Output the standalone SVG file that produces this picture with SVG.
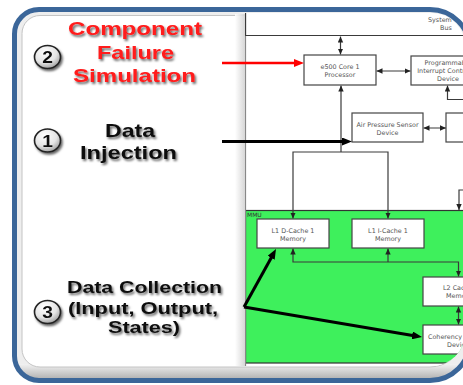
<svg xmlns="http://www.w3.org/2000/svg" width="463" height="385" viewBox="0 0 463 385">
<defs>
<style>
.box{fill:#fff;stroke:#444;stroke-width:1.2}
.ln{fill:none;stroke:#3a3a3a;stroke-width:1.2}
.st{font-family:"DejaVu Sans",Verdana,sans-serif;font-size:6.4px;fill:#555;text-anchor:middle}
.sl{font-family:"DejaVu Sans",Verdana,sans-serif;font-size:6.4px;fill:#555}
.big{font-family:"Liberation Sans",Arial,sans-serif;font-weight:bold;font-size:19px}
.mid{font-family:"Liberation Sans",Arial,sans-serif;font-weight:bold;font-size:17px;fill:#111}
.red{fill:#ff1a1a}
.blk{fill:#111}
.num{font-family:"Liberation Sans",Arial,sans-serif;font-weight:bold;font-size:16px;fill:#111;text-anchor:middle}
.cir{fill:url(#cg);stroke:#222;stroke-width:1.6}
</style>
<filter id="sh" x="-20%" y="-30%" width="140%" height="170%">
<feDropShadow dx="1.5" dy="2" stdDeviation="1.3" flood-color="#000" flood-opacity="0.6"/>
</filter>
<radialGradient id="cg" cx="40%" cy="30%" r="75%">
<stop offset="0" stop-color="#fff"/><stop offset="0.6" stop-color="#e4e4e4"/><stop offset="1" stop-color="#999"/>
</radialGradient>
<linearGradient id="lsh" x1="0" y1="0" x2="1" y2="0"><stop offset="0" stop-color="#fff"/><stop offset="1" stop-color="#d2d2d2"/></linearGradient>
<linearGradient id="bsh" x1="0" y1="0" x2="0" y2="1"><stop offset="0" stop-color="#f2f2f2"/><stop offset="1" stop-color="#a8a8a8"/></linearGradient>
<marker id="a" markerUnits="userSpaceOnUse" markerWidth="6" markerHeight="6" refX="6" refY="3" orient="auto-start-reverse" viewBox="0 0 6 6"><path d="M0 0.3L6 3L0 5.7z" fill="#222"/></marker>
<marker id="ab" markerUnits="userSpaceOnUse" markerWidth="10" markerHeight="8" refX="5" refY="4" orient="auto" viewBox="0 0 10 8"><path d="M0 0L10 4L0 8z" fill="#000"/></marker>
<marker id="ar" markerUnits="userSpaceOnUse" markerWidth="10" markerHeight="8" refX="5" refY="4" orient="auto" viewBox="0 0 10 8"><path d="M0 0L10 4L0 8z" fill="#ff0000"/></marker>
<clipPath id="fc"><path d="M39 9.5H430A40 40 0 0 1 470 49.5V340.5A40 40 0 0 1 430 380.5H39A24.5 24.5 0 0 1 14.5 356V34A24.5 24.5 0 0 1 39 9.5Z"/></clipPath>
<clipPath id="cp"><path d="M245 13H432A33 33 0 0 1 465 46V333A33 33 0 0 1 432 366H245Z"/></clipPath>
</defs>
<rect width="463" height="385" fill="#fff"/>
<g id="frame-bevel">
<path d="M39 9.5H430A40 40 0 0 1 470 49.5V340.5A40 40 0 0 1 430 380.5H39A24.5 24.5 0 0 1 14.5 356V34A24.5 24.5 0 0 1 39 9.5Z" fill="#eeeeee"/>
<rect x="14" y="364" width="460" height="17" fill="url(#bsh)" clip-path="url(#fc)"/>
<path d="M40 15.5H430A34 34 0 0 1 464 49.5V333A34 34 0 0 1 430 367H40A18 18 0 0 1 22 349V33.5A18 18 0 0 1 40 15.5Z" fill="#fff" stroke="#c4c4c4" stroke-width="1"/>
</g>
<g id="screenshot" clip-path="url(#cp)">
<rect x="245" y="13" width="230" height="353" fill="#fff"/>
<g id="mmu">
<rect x="245.5" y="210.5" width="240" height="152.5" fill="#3ef05c" stroke="#333" stroke-width="1.2"/>
<text class="sl" x="247" y="216.5" style="font-size:6px;fill:#333">MMU</text>
</g>
<line x1="245.5" y1="13" x2="245.5" y2="366" stroke="#888" stroke-width="1.2"/>
<text class="sl" x="428" y="22">System</text>
<text class="sl" x="440" y="30">Bus</text>
<g id="connectors-inner">
<path class="ln" d="M245.5 13V35.5H470" stroke-width="1.6"/>
<path class="ln" d="M340.5 36.5V54.5" marker-start="url(#a)" marker-end="url(#a)"/>
<path class="ln" d="M376.5 71H410.5" marker-start="url(#a)" marker-end="url(#a)"/>
<path class="ln" d="M470 99.5H447.5V85.5" marker-end="url(#a)"/>
<path class="ln" d="M341 152V85.5" marker-end="url(#a)"/>
<path class="ln" d="M293 218.5V152H388V218.5" marker-start="url(#a)" marker-end="url(#a)"/>
<path class="ln" d="M423.5 128H446" marker-start="url(#a)" marker-end="url(#a)"/>
<path class="ln" d="M470 190H459V210" marker-end="url(#a)"/>
<path class="ln" d="M293 248.5V262H458.5V276.5" marker-start="url(#a)" marker-end="url(#a)"/>
<path class="ln" d="M388 248.5V262" marker-start="url(#a)"/>
<path class="ln" d="M458.5 306.5V324.5" marker-start="url(#a)" marker-end="url(#a)"/>
</g>
<g id="e500"><rect class="box" x="304" y="55" width="72" height="30"/><text class="st" x="340" y="69">e500 Core 1</text><text class="st" x="340" y="77">Processor</text></g>
<g id="pic"><rect class="box" x="411" y="56" width="70" height="29"/><text class="st" x="448" y="65">Programmable</text><text class="st" x="448" y="73">Interrupt Controller</text><text class="st" x="448" y="80.5">Device</text></g>
<g id="airpressure"><rect class="box" x="352" y="113" width="71" height="29"/><text class="st" x="387.5" y="126.5">Air Pressure Sensor</text><text class="st" x="387.5" y="134.5">Device</text></g>
<g id="rightbox"><rect class="box" x="446" y="113" width="40" height="29"/></g>
<g id="l1d"><rect class="box" x="257" y="219" width="72" height="29"/><text class="st" x="293" y="233">L1 D-Cache 1</text><text class="st" x="293" y="240.5">Memory</text></g>
<g id="l1i"><rect class="box" x="352" y="219" width="72" height="29"/><text class="st" x="388" y="233">L1 I-Cache 1</text><text class="st" x="388" y="240.5">Memory</text></g>
<g id="l2"><rect class="box" x="423" y="277" width="60" height="29"/><text class="sl" x="443" y="290">L2 Cache</text><text class="sl" x="446" y="298">Memory</text></g>
<g id="coherency"><rect class="box" x="423" y="325" width="60" height="29"/><text class="sl" x="428" y="339">Coherency</text><text class="sl" x="447" y="347">Device</text></g>
</g>
<rect x="235" y="14" width="10" height="352" fill="url(#lsh)" opacity="0.9"/>
<g id="label-failure" filter="url(#sh)">
<ellipse class="cir" cx="47.5" cy="57" rx="13" ry="11.5"/>
<text class="num" transform="translate(47.5 63) scale(1.2 1)">2</text>
<text class="big red" x="68" y="35" textLength="134" lengthAdjust="spacingAndGlyphs">Component</text>
<text class="big red" x="97" y="59" textLength="77" lengthAdjust="spacingAndGlyphs">Failure</text>
<text class="big red" x="73" y="82" textLength="123" lengthAdjust="spacingAndGlyphs">Simulation</text>
</g>
<g id="label-injection" filter="url(#sh)">
<ellipse class="cir" cx="47.5" cy="140.5" rx="13" ry="11.5"/>
<text class="num" transform="translate(47.5 146.5) scale(1.2 1)">1</text>
<text class="big blk" x="105" y="137" textLength="50" lengthAdjust="spacingAndGlyphs">Data</text>
<text class="big blk" x="80" y="159" textLength="97" lengthAdjust="spacingAndGlyphs">Injection</text>
</g>
<g id="label-collection" filter="url(#sh)">
<ellipse class="cir" cx="47.5" cy="312" rx="13" ry="11.5"/>
<text class="num" transform="translate(47.5 318) scale(1.2 1)">3</text>
<text class="mid" x="67" y="293" textLength="155" lengthAdjust="spacingAndGlyphs">Data Collection</text>
<text class="mid" x="68" y="314" textLength="150" lengthAdjust="spacingAndGlyphs">(Input, Output,</text>
<text class="mid" x="108" y="333" textLength="72" lengthAdjust="spacingAndGlyphs">States)</text>
</g>
<g id="connectors">
<path d="M222 63H299" stroke="#ff0000" stroke-width="2.5" fill="none" marker-end="url(#ar)"/>
<path d="M222 141.5H347" stroke="#000" stroke-width="3" fill="none" marker-end="url(#ab)"/>
<path d="M244 307L273.6 253.4" stroke="#000" stroke-width="3" fill="none" marker-end="url(#ab)"/>
<path d="M244 307L417.1 336.2" stroke="#000" stroke-width="3" fill="none" marker-end="url(#ab)"/>
</g>
<path id="frame" d="M39 9.5H430A40 40 0 0 1 470 49.5V340.5A40 40 0 0 1 430 380.5H39A24.5 24.5 0 0 1 14.5 356V34A24.5 24.5 0 0 1 39 9.5Z" fill="none" stroke="#3b6699" stroke-width="5"/>
</svg>
